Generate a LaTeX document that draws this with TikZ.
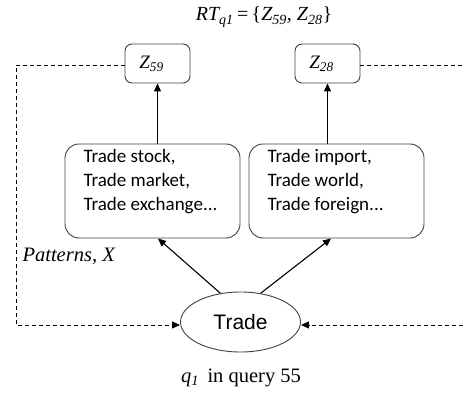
\documentclass[tikz,border=0pt]{standalone}
\usepackage{fontspec}
\setmainfont{Liberation Serif}
\newfontfamily\boxfont{Carlito}
\newfontfamily\ellfont{Liberation Sans}
\usetikzlibrary{arrows.meta,shapes.geometric}
\begin{document}
\begin{tikzpicture}[x=1pt,y=-1pt,
  zbox/.style={draw=black!75,line width=0.9pt,rounded corners=7pt,minimum width=65pt,minimum height=39pt,inner sep=0pt,font=\fontsize{19}{20}\selectfont\itshape},
  pbox/.style={draw=black!75,line width=0.9pt,rounded corners=14pt,minimum width=175pt,minimum height=94pt,inner sep=0pt},
  ptext/.style={font=\boxfont\fontsize{19}{24}\selectfont,align=left},
  arr/.style={line width=1.1pt,-{Triangle[length=8pt,width=7pt]}},
  dline/.style={line width=0.9pt,dash pattern=on 4pt off 3pt},
  darr/.style={dline,-{Triangle[length=8pt,width=7pt]}},
  lab/.style={font=\fontsize{20.5}{22}\selectfont}
]
\useasboundingbox (0,0) rectangle (463,396);
\node[lab,font=\fontsize{20}{22}\selectfont] (title) at (264,17) {\textit{RT\textsubscript{q1}}\,=\,\{\textit{Z\textsubscript{59}, Z\textsubscript{28}}\}};
\node[zbox] (z59) at (157.5,63.5) {Z\textsubscript{59}\hspace*{12pt}};
\node[zbox] (z28) at (327.5,63.5) {Z\textsubscript{28}\hspace*{12pt}};
\node[pbox] (p1) at (152.5,191) {};
\node[ptext,anchor=north west] (t1) at (80,146) {Trade stock,\\Trade market,\\Trade exchange...};
\node[pbox] (p2) at (336.5,191) {};
\node[ptext,anchor=north west] (t2) at (264,146) {Trade import,\\Trade world,\\Trade foreign...};
\node[draw=black!75,line width=0.9pt,ellipse,minimum width=120pt,minimum height=60pt,inner sep=0pt,font=\ellfont\fontsize{21}{24}\selectfont] (trade) at (240.5,322) {Trade};
\node[lab,anchor=west,font=\fontsize{20.5}{22}\selectfont\itshape] (pat) at (19,256) {Patterns, X};
\node[lab] (q) at (241,378) {\textit{q\textsubscript{1}}\, in query 55};
\coordinate (lc1) at (16,65);
\coordinate (lc2) at (16,325);
\coordinate (rc1) at (463,65);
\coordinate (rc2) at (463,325);
\draw[arr] (p1.north -| z59) -- (z59.south);
\draw[arr] (p2.north -| z28) -- (z28.south);
\draw[arr] (trade.125) -- (158,238.5);
\draw[arr] (trade.55) -- (331,238.5);
\draw[darr] (z59.west |- lc1) -- (lc1) -- (lc2) -- (trade.west |- lc2);
\draw[dline] (z28.east |- rc1) -- (rc1);
\draw[darr] (rc2) -- (trade.east |- rc2);
\end{tikzpicture}
\end{document}
